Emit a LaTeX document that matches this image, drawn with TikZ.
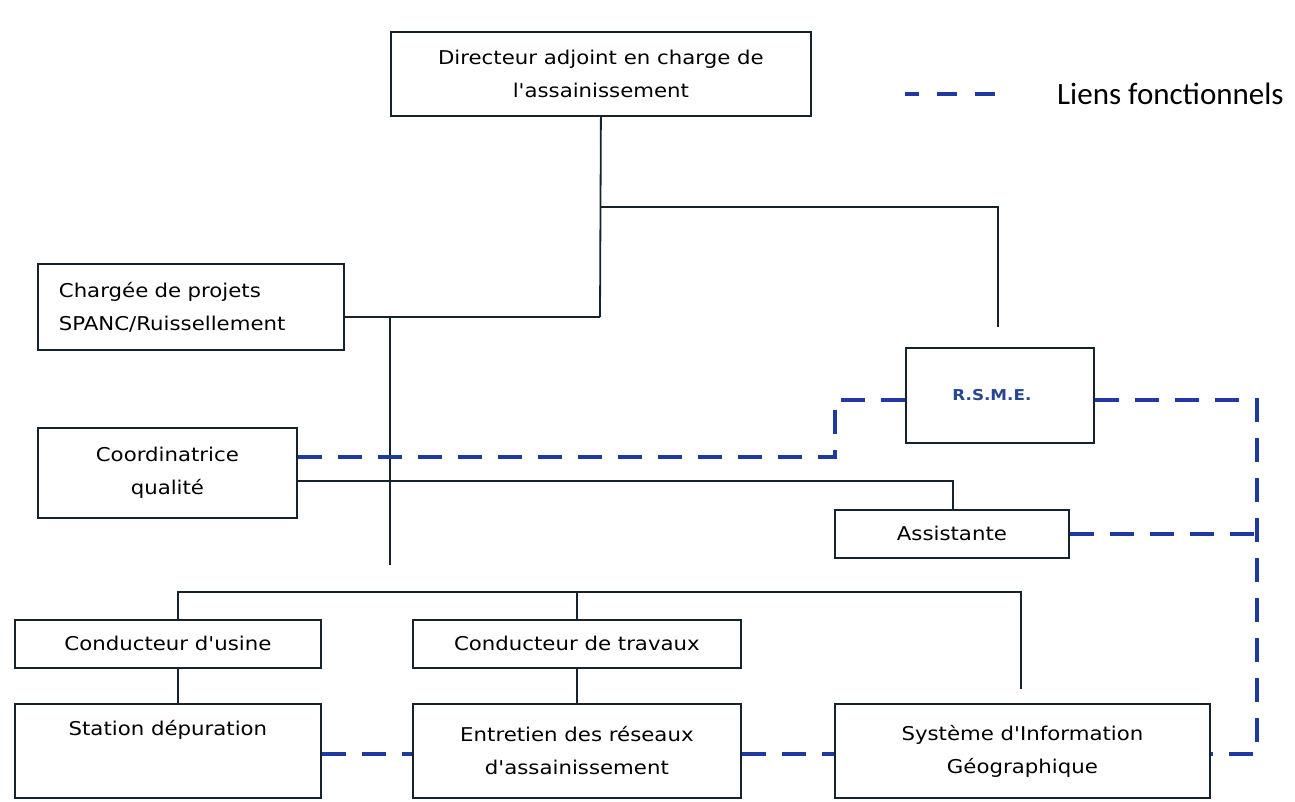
\documentclass[tikz,border=0pt]{standalone}
\usepackage{fontspec}
\setmainfont{DejaVu Sans}[FakeStretch=1.12, Ligatures=TeXOff]
\newfontfamily\legendfont{Carlito}
\definecolor{funcblue}{RGB}{28,58,160}
\definecolor{rsmeblue}{RGB}{40,70,150}
\definecolor{boxline}{RGB}{20,35,45}
\begin{document}
\begin{tikzpicture}[x=1pt,y=-1pt,
  box/.style={draw=boxline, line width=1.8pt, inner sep=0pt, align=center,
    anchor=north west, font=\fontsize{19}{33}\selectfont},
  org/.style={draw=boxline, line width=1.8pt},
  func/.style={draw=funcblue, line width=4.5pt, dash pattern=on 24pt off 16pt}]
\useasboundingbox (0,0) rectangle (1295,801);
\fill[white] (0,0) rectangle (1295,801);

% boxes
\node[box, minimum width=420pt, minimum height=84pt] (dir) at (390,31)
  {Directeur adjoint en charge de\\l'assainissement};
\node[box, align=left, inner xsep=21pt, text width=264pt, minimum height=86pt] (charg) at (37,263)
  {Chargée de projets\\SPANC/Ruissellement};
\node[box, minimum width=259pt, minimum height=90pt] (coord) at (37,427)
  {Coordinatrice\\qualité};
\node[box, minimum width=188pt, minimum height=95pt] (rsme) at (905,347)
  {\color{rsmeblue}\bfseries\fontsize{15}{17}\selectfont R.S.M.E.\hspace*{16pt}};
\node[box, minimum width=234pt, minimum height=48pt] (assist) at (834,509)
  {Assistante};
\node[box, minimum width=306pt, minimum height=48pt] (cusine) at (14,619)
  {Conducteur d'usine};
\node[box, minimum width=328pt, minimum height=48pt] (ctrav) at (412,619)
  {Conducteur de travaux};
\node[box, minimum width=306pt, text height=32pt, text depth=62pt] (station) at (14,703)
  {Station dépuration};
\node[box, minimum width=328pt, minimum height=94pt] (entre) at (412,703)
  {Entretien des réseaux\\d'assainissement};
\node[box, minimum width=375pt, minimum height=94pt] (sig) at (834,703)
  {Système d'Information\\Géographique};

% legend
\coordinate (l1) at (905,94);
\coordinate (l2) at (1002,94);
\draw[func, dash pattern=on 14pt off 18pt on 20pt off 18pt on 20pt off 18pt] (l1) -- (l2);
\node[anchor=west, inner sep=0pt, font=\legendfont\fontsize{31}{34}\selectfont] (leg) at (1057,94) {Liens fonctionnels};

% hierarchy lines
\coordinate (j1) at (600,207);
\coordinate (j2) at (600,317);
\coordinate (j3) at (390,317);
\coordinate (j4) at (390,565);
\coordinate (j5) at (953,481);
\coordinate (b1) at (178,592);
\coordinate (b2) at (1021,592);
\draw[org] (dir.south) -- (j2);
\draw[org] (j1) -| ([yshift=20pt]rsme.north -| 998,0);
\draw[org] (charg.east |- j2) -- (j2);
\draw[org] (j3) -- (j4);
\draw[org] (coord.east |- j5) -- (j5) -- (j5 |- assist.north);
\draw[org] (b1 |- cusine.north) -- (b1) -- (b2) -- ([yshift=14pt]b2 |- sig.north);
\draw[org] (ctrav.north |- b1) -- (ctrav.north);
\draw[org] (b1 |- cusine.south) -- (b1 |- station.north);
\draw[org] (ctrav.south) -- (entre.north);

% functional links
\coordinate (f1) at (835,457);
\coordinate (f2) at (835,400);
\coordinate (f3) at (1257,400);
\coordinate (f4) at (1257,754);
\draw[func] (coord.east |- f1) -- (f1) -- (f2) -- (rsme.west |- f2);
\draw[func] (rsme.east |- f3) -- (f3) -- (f4) -- (sig.east |- f4);
\draw[func] (assist.east) -- (assist.east -| f3);
\draw[func] (station.east |- f4) -- (entre.west |- f4);
\draw[func] (entre.east |- f4) -- (sig.west |- f4);
\end{tikzpicture}
\end{document}
